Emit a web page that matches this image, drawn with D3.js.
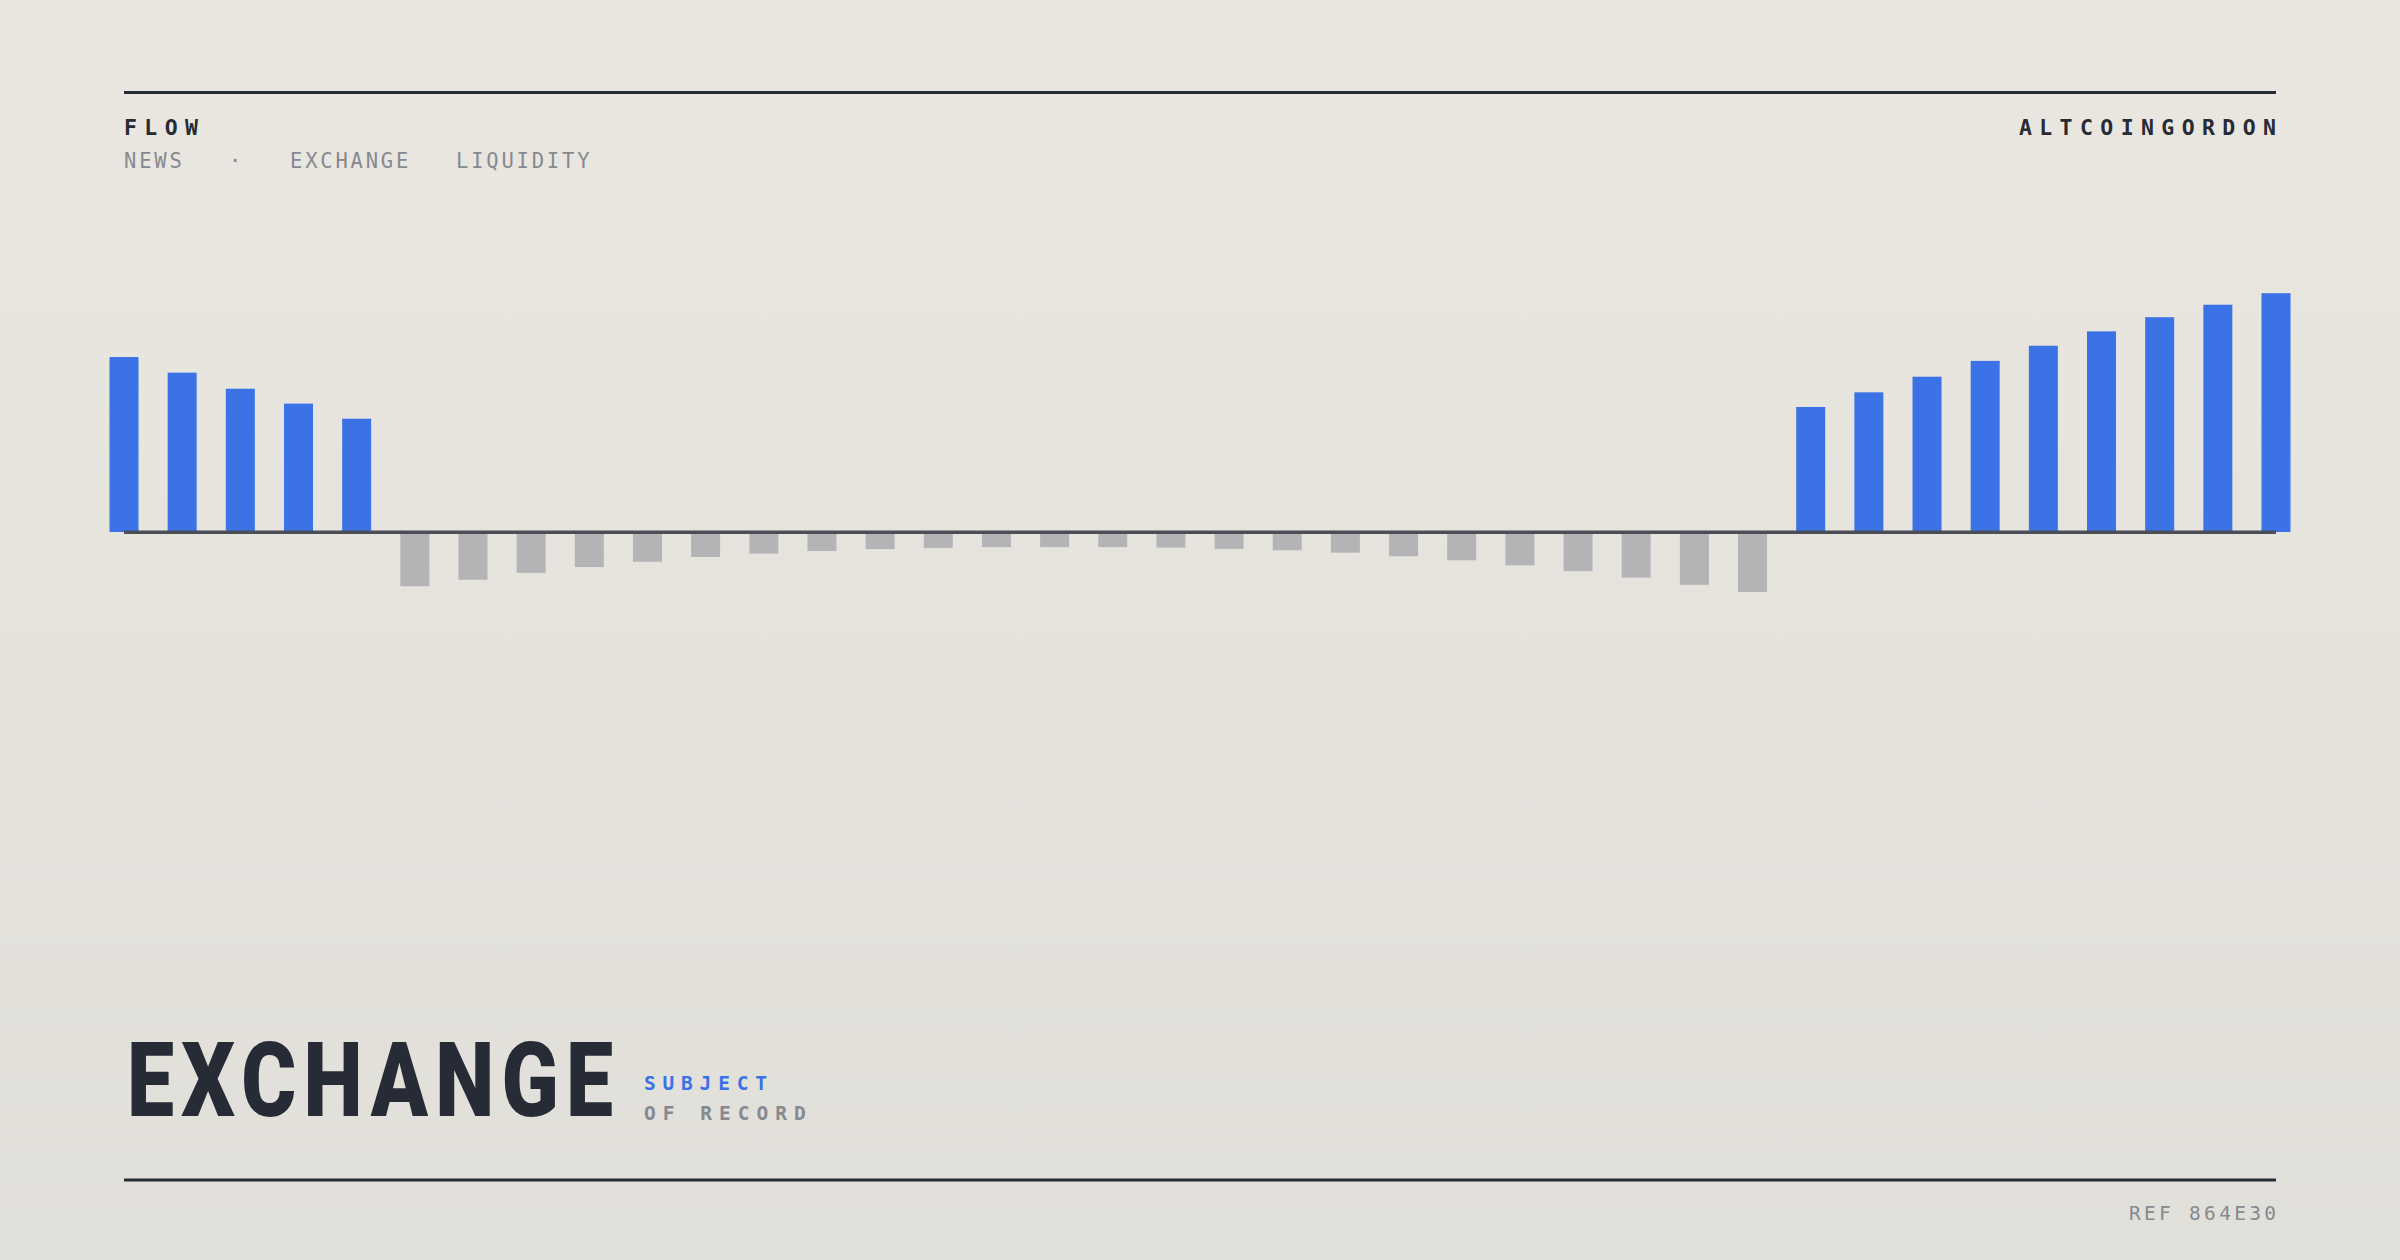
<!DOCTYPE html>
<html>
<head>
<meta charset="utf-8">
<script src="https://cdn.jsdelivr.net/npm/d3@7"></script>
<style>
  html, body { margin: 0; padding: 0; }
  body { width: 2400px; height: 1260px; overflow: hidden; }
  svg { display: block; }
</style>
</head>
<body>
<svg id="chart" width="2400" height="1260"></svg>
<script>
// ---------- data ----------
const categories = [
  "P01","P02","P03","P04","P05","P06","P07","P08","P09","P10",
  "P11","P12","P13","P14","P15","P16","P17","P18","P19","P20",
  "P21","P22","P23","P24","P25","P26","P27","P28","P29","P30",
  "P31","P32","P33","P34","P35","P36","P37","P38"
];
const flowValues = [
  72.9, 66.4, 59.7, 53.5, 47.2,
  -22.6, -19.9, -17.0, -14.6, -12.4, -10.4, -9.0, -7.9, -7.1, -6.7, -6.3, -6.3,
  -6.3, -6.5, -7.0, -7.6, -8.6, -10.1, -11.8, -13.9, -16.3, -19.0, -22.0, -25.0,
  52.1, 58.2, 64.7, 71.3, 77.6, 83.6, 89.5, 94.7, 99.5
];
const yDomain = [0, 100];
const headerLeft = "FLOW";
const headerRight = "ALTCOINGORDON";
const tags = ["NEWS", "·", "EXCHANGE", "LIQUIDITY"];
const titleMain = "EXCHANGE";
const titleSub1 = "SUBJECT";
const titleSub2 = "OF RECORD";
const refLabel = "REF 864E30";

// ---------- styles ----------
const C = {
  ink: "#272b36",
  muted: "#878991",
  blue: "#3b73e6",
  grey: "#b4b4b6",
  axis: "#4b4e56"
};
const MONO = "'DejaVu Sans Mono', 'Liberation Mono', monospace";

const svg = d3.select("#chart");
const defs = svg.append("defs");
const grad = defs.append("linearGradient").attr("id", "bg").attr("x1", 0).attr("y1", 0).attr("x2", 0).attr("y2", 1);
grad.append("stop").attr("offset", "0%").attr("stop-color", "#eae7e1");
grad.append("stop").attr("offset", "100%").attr("stop-color", "#e1dfd9");
svg.append("rect").attr("width", 2400).attr("height", 1260).attr("fill", "url(#bg)");

const L = 124, R = 2276;

// rules
svg.append("rect").attr("x", L).attr("y", 91).attr("width", R - L).attr("height", 3).attr("fill", C.ink);
svg.append("rect").attr("x", L).attr("y", 1178.5).attr("width", R - L).attr("height", 3).attr("fill", C.ink);

// header
svg.append("text").text(headerLeft)
  .attr("x", L).attr("y", 135)
  .attr("font-family", MONO).attr("font-weight", 700).attr("font-size", 21.5)
  .attr("letter-spacing", 7.4).attr("fill", C.ink);

svg.append("text").text(headerRight)
  .attr("x", R + 7.4).attr("y", 135).attr("text-anchor", "end")
  .attr("font-family", MONO).attr("font-weight", 700).attr("font-size", 21.5)
  .attr("letter-spacing", 7.4).attr("fill", C.ink);

const tagX = [124, 229, 290, 456];
svg.selectAll("text.tag").data(tags).join("text")
  .attr("class", "tag")
  .text(d => d)
  .attr("x", (d, i) => tagX[i]).attr("y", 168.3)
  .attr("font-family", MONO).attr("font-size", 20.5)
  .attr("letter-spacing", 2.8).attr("fill", C.muted);

// ---------- chart ----------
const x = d3.scalePoint().domain(categories).range([L, R]);
const y = d3.scaleLinear().domain(yDomain).range([532, 292]);
const bw = 29;

svg.append("g").selectAll("rect").data(flowValues).join("rect")
  .attr("x", (d, i) => x(categories[i]) - bw / 2)
  .attr("y", d => d >= 0 ? y(d) : y(0))
  .attr("width", bw)
  .attr("height", d => Math.abs(y(d) - y(0)))
  .attr("fill", d => d >= 0 ? C.blue : C.grey);

svg.append("line")
  .attr("x1", L).attr("x2", R)
  .attr("y1", y(0) + 0.3).attr("y2", y(0) + 0.3)
  .attr("stroke", C.axis).attr("stroke-width", 3.4);

// ---------- title ----------
const titleLS = 9;
const titleG = svg.append("g").attr("transform", "translate(127,1116)");
const titleT = titleG.append("text").text(titleMain)
  .attr("x", 0).attr("y", 0)
  .attr("font-family", "Roboto, 'Liberation Sans', sans-serif").attr("font-weight", 900)
  .attr("font-size", 104)
  .attr("letter-spacing", titleLS)
  .attr("fill", C.ink);
const natW = titleT.node().getComputedTextLength() - titleLS;
titleG.attr("transform", `translate(127,1116) scale(${486 / natW},1)`);

svg.append("text").text(titleSub1)
  .attr("x", 644).attr("y", 1089.5)
  .attr("font-family", MONO).attr("font-weight", 700).attr("font-size", 19.5)
  .attr("letter-spacing", 6.8).attr("fill", C.blue);

svg.append("text").text(titleSub2)
  .attr("x", 644).attr("y", 1119.5)
  .attr("font-family", MONO).attr("font-weight", 700).attr("font-size", 19.5)
  .attr("letter-spacing", 7.0).attr("fill", C.muted);

// footer
svg.append("text").text(refLabel)
  .attr("x", R + 3.3).attr("y", 1220).attr("text-anchor", "end")
  .attr("font-family", MONO).attr("font-size", 19.5)
  .attr("letter-spacing", 3.3).attr("fill", C.muted);
</script>
</body>
</html>
